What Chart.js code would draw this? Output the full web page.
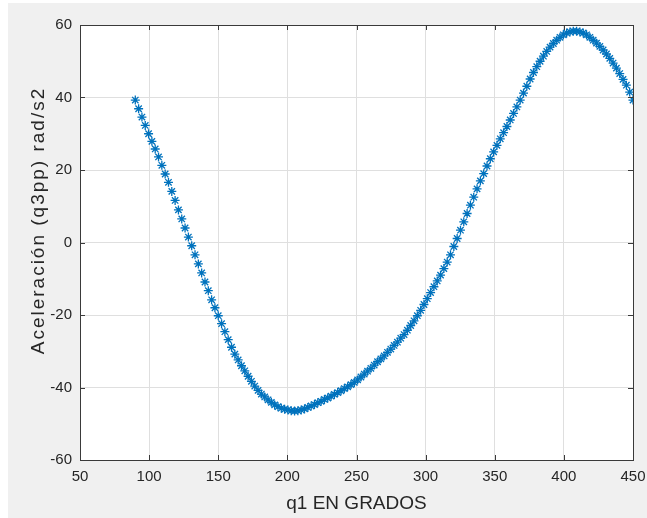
<!DOCTYPE html>
<html>
<head>
<meta charset="utf-8">
<script src="https://cdn.jsdelivr.net/npm/chart.js@4.4.1/dist/chart.umd.min.js"></script>
<style>
  html, body { margin: 0; padding: 0; background: #ffffff; }
  #wrap { position: absolute; left: 0; top: 0; width: 647px; height: 518px; }
</style>
</head>
<body>
<div id="wrap"><canvas id="c" width="647" height="518"></canvas></div>
<script>
// q1 (degrees)
const q1Grados = [
  90, 92.4, 94.8, 97.2, 99.6, 102, 104.4, 106.8, 109.2, 111.6,
  114, 116.4, 118.8, 121.2, 123.6, 126, 128.4, 130.8, 133.2, 135.6,
  138, 140.4, 142.8, 145.2, 147.6, 150, 152.4, 154.8, 157.2, 159.6,
  162, 164.4, 166.8, 169.2, 171.6, 174, 176.4, 178.8, 181.2, 183.6,
  186, 188.4, 190.8, 193.2, 195.6, 198, 200.4, 202.8, 205.2, 207.6,
  210, 212.4, 214.8, 217.2, 219.6, 222, 224.4, 226.8, 229.2, 231.6,
  234, 236.4, 238.8, 241.2, 243.6, 246, 248.4, 250.8, 253.2, 255.6,
  258, 260.4, 262.8, 265.2, 267.6, 270, 272.4, 274.8, 277.2, 279.6,
  282, 284.4, 286.8, 289.2, 291.6, 294, 296.4, 298.8, 301.2, 303.6,
  306, 308.4, 310.8, 313.2, 315.6, 318, 320.4, 322.8, 325.2, 327.6,
  330, 332.4, 334.8, 337.2, 339.6, 342, 344.4, 346.8, 349.2, 351.6,
  354, 356.4, 358.8, 361.2, 363.6, 366, 368.4, 370.8, 373.2, 375.6,
  378, 380.4, 382.8, 385.2, 387.6, 390, 392.4, 394.8, 397.2, 399.6,
  402, 404.4, 406.8, 409.2, 411.6, 414, 416.4, 418.8, 421.2, 423.6,
  426, 428.4, 430.8, 433.2, 435.6, 438, 440.4, 442.8, 445.2, 447.6,
  450
];
// q3pp acceleration (rad/s2)
const q3pp = [
  39.3, 36.9, 34.6, 32.3, 30.0, 27.9, 25.8, 23.6, 21.3, 18.9,
  16.6, 14.1, 11.6, 9.0, 6.5, 4.0, 1.5, -0.9, -3.4, -5.9,
  -8.4, -10.9, -13.3, -15.8, -18.0, -20.2, -22.4, -24.6, -26.8, -28.9,
  -30.8, -32.4, -34.0, -35.4, -36.9, -38.3, -39.6, -40.8, -41.8, -42.6,
  -43.4, -44.1, -44.8, -45.3, -45.7, -46.0, -46.2, -46.4, -46.5, -46.4,
  -46.2, -45.9, -45.5, -45.1, -44.7, -44.2, -43.8, -43.3, -42.9, -42.4,
  -41.9, -41.4, -40.9, -40.3, -39.8, -39.2, -38.6, -37.9, -37.1, -36.3,
  -35.5, -34.7, -33.8, -32.9, -32.1, -31.3, -30.3, -29.4, -28.4, -27.5,
  -26.4, -25.4, -24.2, -22.9, -21.6, -20.2, -18.7, -17.1, -15.5, -13.8,
  -12.2, -10.6, -9.0, -7.2, -5.4, -3.4, -1.1, 1.1, 3.4, 5.7,
  8.0, 10.3, 12.5, 14.8, 17.0, 19.0, 21.1, 23.1, 25.0, 26.8,
  28.6, 30.3, 32.0, 33.8, 35.6, 37.4, 39.3, 41.2, 43.1, 45.1,
  46.9, 48.5, 50.0, 51.4, 52.7, 53.9, 54.9, 55.8, 56.6, 57.3,
  57.8, 58.1, 58.3, 58.3, 58.1, 57.8, 57.3, 56.6, 55.8, 55.0,
  54.1, 53.1, 52.0, 50.8, 49.5, 48.1, 46.6, 45.0, 43.4, 41.5,
  39.3
];
const xTicks = [50, 100, 150, 200, 250, 300, 350, 400, 450];
const yTicks = [-60, -40, -20, 0, 20, 40, 60];
const xTitle = 'q1 EN GRADOS';
const yTitle = 'Aceleración (q3pp) rad/s2';

const points = q1Grados.map((x, i) => ({ x: x, y: q3pp[i] }));

const TEXT = '#262626';
const FONT = "'Liberation Sans', Arial, Helvetica, sans-serif";

const figurePlugin = {
  id: 'figure',
  afterLayout(chart) {
    const ys = chart.scales.y;
    if (ys && !ys._wrappedTitle) {
      const orig = ys.drawTitle;
      ys.drawTitle = function () {
        const ctx = this.ctx;
        ctx.save();
        ctx.letterSpacing = '2px';
        ctx.translate(0, -22);
        orig.call(this);
        ctx.restore();
        ctx.letterSpacing = '0px';
      };
      ys._wrappedTitle = true;
    }
  },
  beforeDraw(chart) {
    const ctx = chart.ctx;
    const a = chart.chartArea;
    ctx.save();
    ctx.fillStyle = '#ffffff';
    ctx.fillRect(0, 0, chart.width, chart.height);
    ctx.fillStyle = '#f0f0f0';
    ctx.fillRect(8, 3, chart.width - 8, chart.height - 3);
    ctx.fillStyle = '#ffffff';
    ctx.fillRect(a.left, a.top, a.right - a.left, a.bottom - a.top);
    ctx.restore();
  },
  afterDatasetsDraw(chart) {
    const ctx = chart.ctx;
    const a = chart.chartArea;
    const xs = chart.scales.x, ys = chart.scales.y;
    const tl = 5;
    ctx.save();
    ctx.strokeStyle = '#3a3a3a';
    ctx.lineWidth = 1;
    ctx.beginPath();
    xTicks.forEach(v => {
      const px = Math.round(xs.getPixelForValue(v)) + 0.5;
      ctx.moveTo(px, a.bottom); ctx.lineTo(px, a.bottom - tl);
      ctx.moveTo(px, a.top); ctx.lineTo(px, a.top + tl);
    });
    yTicks.forEach(v => {
      const py = Math.round(ys.getPixelForValue(v)) + 0.5;
      ctx.moveTo(a.left, py); ctx.lineTo(a.left + tl, py);
      ctx.moveTo(a.right, py); ctx.lineTo(a.right - tl, py);
    });
    ctx.stroke();
    ctx.strokeRect(Math.round(a.left) + 0.5, Math.round(a.top) + 0.5,
                   Math.round(a.right - a.left), Math.round(a.bottom - a.top));
    ctx.restore();
  }
};

new Chart(document.getElementById('c'), {
  type: 'scatter',
  data: {
    datasets: [{
      data: points,
      showLine: false,
      pointStyle: 'star',
      pointRadius: 4.5,
      pointHoverRadius: 4.5,
      borderColor: '#0072BD',
      backgroundColor: '#0072BD',
      pointBorderWidth: 1.3
    }]
  },
  options: {
    responsive: false,
    animation: false,
    devicePixelRatio: 1,
    layout: { padding: { left: 0, right: 14, top: 25, bottom: 0 } },
    plugins: { legend: { display: false }, tooltip: { enabled: false } },
    scales: {
      x: {
        type: 'linear',
        min: 50, max: 450,
        afterFit(s) { s.height = 58; s.paddingLeft = 0; s.paddingRight = 0; },
        afterBuildTicks(s) { s.ticks = xTicks.map(v => ({ value: v })); },
        ticks: { color: TEXT, font: { family: FONT, size: 15 }, padding: 8, maxRotation: 0 },
        grid: { color: '#dfdfdf', lineWidth: 1, drawTicks: false },
        border: { display: false },
        title: { display: true, text: xTitle, color: TEXT,
                 font: { family: FONT, size: 19 }, padding: { top: 0, bottom: 3 } }
      },
      y: {
        type: 'linear',
        min: -60, max: 60,
        afterFit(s) { s.width = 80; s.paddingTop = 0; s.paddingBottom = 0; },
        afterBuildTicks(s) { s.ticks = yTicks.map(v => ({ value: v })); },
        ticks: { color: TEXT, font: { family: FONT, size: 15 }, padding: 8 },
        grid: { color: '#dfdfdf', lineWidth: 1, drawTicks: false },
        border: { display: false },
        title: { display: true, text: yTitle, color: TEXT,
                 font: { family: FONT, size: 19 }, padding: { top: 27, bottom: 0 } }
      }
    }
  },
  plugins: [figurePlugin]
});
</script>
</body>
</html>
